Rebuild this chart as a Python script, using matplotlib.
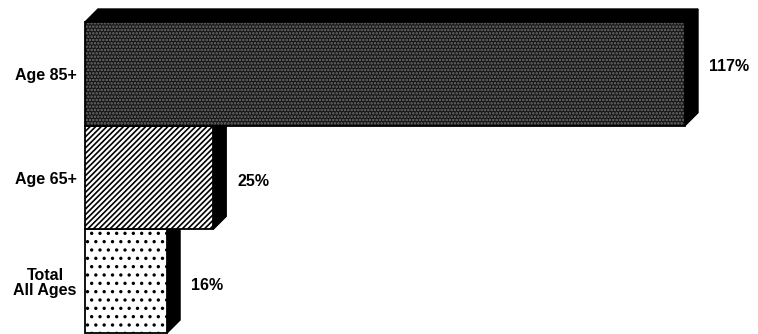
import numpy as np
import matplotlib
matplotlib.use('Agg')
import matplotlib.pyplot as plt
from matplotlib.patches import Polygon

# data (top to bottom)
categories = ['Age 85+', 'Age 65+', 'Total\nAll Ages']
values = [117, 25, 16]
value_labels = ['117%', '25%', '16%']

plt.rcParams['font.family'] = ['Liberation Sans', 'DejaVu Sans']
plt.rcParams['hatch.linewidth'] = 1.2

fig = plt.figure(figsize=(7.58, 3.34), dpi=100)
ax = fig.add_axes([85 / 758, 1 / 334, 600 / 758, 311 / 334])
ax.set_xlim(0, 117)
ax.set_ylim(2.5, -0.5)

# 3D extrusion depth in data units
dx = 13 / 5.13
dy = 13 / 103.7

faces = ['#161616', 'white', 'white']
hatches = ['.....', '//////', '..']
hatch_cols = ['#707070', 'black', 'black']
label_dy = [-0.07, 0.04, 0.04]

ypos = np.arange(len(values))
# draw from the bottom bar upward so the upper bar covers the lower one's top
for i in reversed(range(len(values))):
    v = values[i]
    c = ypos[i]
    top, bot = c - 0.5, c + 0.5
    side = Polygon([(v, top), (v + dx, top - dy), (v + dx, bot - dy), (v, bot)],
                   closed=True, facecolor='black', edgecolor='black', lw=1, clip_on=False)
    roof = Polygon([(0, top), (dx, top - dy), (v + dx, top - dy), (v, top)],
                   closed=True, facecolor='black', edgecolor='black', lw=1, clip_on=False)
    ax.add_patch(side)
    ax.add_patch(roof)
    ax.barh(c, v, height=1, color=faces[i], edgecolor=hatch_cols[i], hatch=hatches[i],
            lw=0, clip_on=False)
    ax.barh(c, v, height=1, fill=False, edgecolor='black', lw=1.3, clip_on=False)
    ax.text(v + dx + 2.2, c + label_dy[i], value_labels[i], ha='left', va='center',
            fontsize=11.5, fontweight='bold')

ax.set_yticks(ypos)
ax.set_yticklabels(categories, fontsize=11.5, fontweight='bold')
for lab in ax.get_yticklabels():
    lab.set_multialignment('center')
    lab.set_linespacing(1.05)
ax.tick_params(axis='y', length=0, pad=6)
ax.set_xticks([])
for s in ax.spines.values():
    s.set_visible(False)

fig.savefig('out.png', dpi=100)
